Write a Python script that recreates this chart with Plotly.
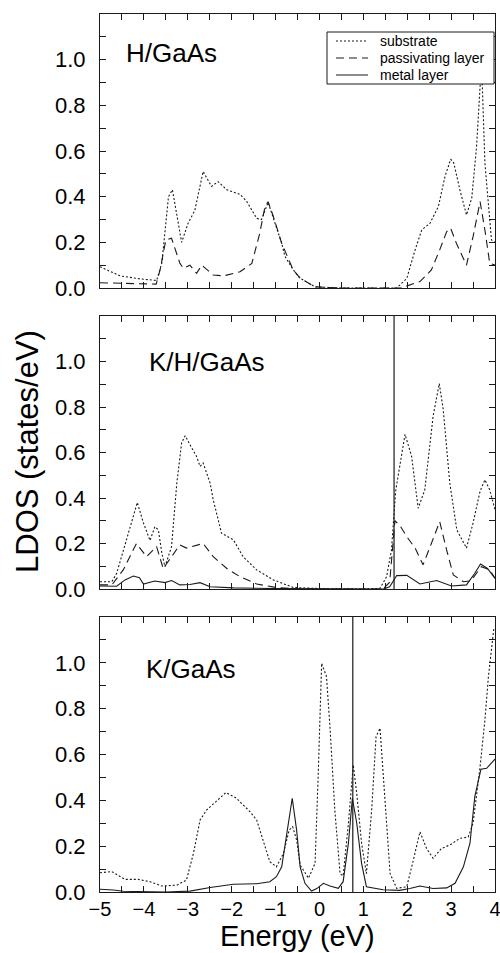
import plotly.graph_objects as go

# ---------------- data ----------------
# Panel 1: H/GaAs
h_sub_E = [-5, -4.54, -4.09, -3.71, -3.59, -3.44, -3.35, -3.14, -2.99, -2.84, -2.65, -2.46, -2.31, -2.11,
           -1.81, -1.66, -1.43, -1.32, -1.17, -0.98, -0.86, -0.79, -0.60, -0.44, -0.10, 0.5, 1.0, 1.5, 1.76,
           1.99, 2.18, 2.33, 2.52, 2.71, 2.86, 2.99, 3.06, 3.20, 3.35, 3.47, 3.58, 3.66, 3.70, 3.77, 3.92, 4.0]
h_sub = [0.093, 0.053, 0.04, 0.033, 0.11, 0.40, 0.43, 0.20, 0.285, 0.34, 0.51, 0.445, 0.466, 0.43,
         0.41, 0.38, 0.305, 0.30, 0.375, 0.27, 0.196, 0.14, 0.08, 0.043, 0.005, 0, 0, 0, 0.0,
         0.042, 0.167, 0.254, 0.284, 0.357, 0.488, 0.564, 0.548, 0.43, 0.32, 0.393, 0.62, 0.883, 0.95, 0.547, 0.21, 0.2]
h_pas_E = [-5, -4.0, -3.72, -3.63, -3.50, -3.37, -3.18, -3.10, -2.95, -2.80, -2.68, -2.42, -2.19, -1.81,
           -1.54, -1.36, -1.24, -1.17, -1.05, -0.86, -0.60, -0.44, -0.10, 0.5, 1.0, 1.5, 1.85, 2.29, 2.55,
           2.74, 2.90, 2.99, 3.12, 3.35, 3.50, 3.66, 3.77, 3.88, 4.0]
h_pas = [0.023, 0.02, 0.017, 0.08, 0.21, 0.218, 0.108, 0.086, 0.10, 0.064, 0.10, 0.057, 0.053, 0.071,
         0.108, 0.24, 0.357, 0.378, 0.313, 0.196, 0.08, 0.043, 0.005, 0, 0, 0, 0, 0.028, 0.079,
         0.167, 0.247, 0.262, 0.196, 0.10, 0.225, 0.378, 0.254, 0.108, 0.10]

# Panel 2: K/H/GaAs
kh_sub_E = [-5, -4.73, -4.62, -4.39, -4.28, -4.15, -4.01, -3.86, -3.75, -3.67, -3.59, -3.52, -3.37, -3.25,
            -3.14, -3.06, -2.91, -2.80, -2.72, -2.65, -2.49, -2.42, -2.23, -2.08, -1.96, -1.74, -1.43, -1.05,
            -0.60, 0.0, 0.5, 1.0, 1.38, 1.53, 1.64, 1.74, 1.83, 1.95, 2.10, 2.25, 2.40, 2.59, 2.73, 2.82,
            2.97, 3.13, 3.35, 3.50, 3.66, 3.77, 3.88, 4.0]
kh_sub = [0.032, 0.032, 0.069, 0.216, 0.29, 0.38, 0.29, 0.213, 0.274, 0.26, 0.157, 0.098, 0.186, 0.465,
          0.642, 0.674, 0.62, 0.583, 0.539, 0.554, 0.465, 0.392, 0.245, 0.23, 0.216, 0.142, 0.084, 0.04,
          0.007, 0.002, 0.0, 0.0, 0.003, 0.054, 0.17, 0.436, 0.54, 0.68, 0.583, 0.355, 0.436, 0.76, 0.903, 0.79,
          0.466, 0.26, 0.18, 0.29, 0.43, 0.48, 0.436, 0.348]
kh_pas_E = [-5, -4.73, -4.47, -4.32, -4.17, -3.94, -3.71, -3.56, -3.37, -3.18, -3.03, -2.65, -2.42, -2.11,
            -1.81, -1.43, -1.0, -0.5, 0.5, 1.0, 1.45, 1.60, 1.72, 1.83, 1.99, 2.18, 2.36, 2.55, 2.74, 2.90,
            3.05, 3.28, 3.45, 3.69, 3.88, 4.0]
kh_pas = [0.018, 0.018, 0.084, 0.142, 0.20, 0.142, 0.186, 0.09, 0.142, 0.194, 0.18, 0.20, 0.142, 0.09,
          0.054, 0.022, 0.007, 0.0, 0, 0, 0.0, 0.03, 0.30, 0.28, 0.23, 0.18, 0.106, 0.20, 0.296, 0.17,
          0.062, 0.032, 0.036, 0.098, 0.084, 0.047]
kh_met_E = [-5, -4.7, -4.62, -4.43, -4.24, -4.10, -4.01, -3.75, -3.52, -3.37, -3.18, -2.95, -2.72, -2.49,
            -1.96, -1.0, 0.0, 1.0, 1.46, 1.60, 1.68, 1.76, 1.99, 2.29, 2.67, 3.01, 3.35, 3.54, 3.67, 3.83, 4.0]
kh_met = [0.013, 0.01, 0.012, 0.04, 0.057, 0.05, 0.022, 0.035, 0.028, 0.037, 0.018, 0.02, 0.028, 0.01,
          0.005, 0.002, 0, 0, 0.0, 0.01, 0.032, 0.059, 0.06, 0.022, 0.037, 0.013, 0.018, 0.069, 0.11, 0.09, 0.047]

# Panel 3: K/GaAs
k_sub_E = [-5, -4.73, -4.43, -4.13, -3.86, -3.59, -3.25, -3.03, -2.87, -2.72, -2.57, -2.34, -2.13, -1.89,
           -1.58, -1.43, -1.28, -1.13, -0.98, -0.82, -0.69, -0.61, -0.52, -0.44, -0.25, -0.10, -0.03, 0.05,
           0.16, 0.24, 0.35, 0.47, 0.54, 0.66, 0.77, 0.85, 0.96, 1.07, 1.19, 1.29, 1.38, 1.49, 1.61, 1.76,
           1.99, 2.14, 2.29, 2.44, 2.59, 2.78, 2.97, 3.20, 3.39, 3.50, 3.66, 3.77, 3.85, 3.97, 4.0]
k_sub = [0.084, 0.089, 0.055, 0.055, 0.045, 0.026, 0.03, 0.052, 0.169, 0.314, 0.358, 0.40, 0.434, 0.409,
         0.35, 0.314, 0.227, 0.132, 0.11, 0.169, 0.27, 0.285, 0.227, 0.118, 0.06, 0.125, 0.50, 0.998,
         0.94, 0.72, 0.358, 0.08, 0.07, 0.30, 0.555, 0.43, 0.213, 0.08, 0.358, 0.678, 0.715, 0.416, 0.08, 0.016,
         0.023, 0.14, 0.263, 0.19, 0.147, 0.19, 0.205, 0.234, 0.24, 0.30, 0.547, 0.75, 0.94, 1.144, 1.15]
k_met_E = [-5, -4.7, -4.47, -4.0, -3.5, -2.95, -2.49, -1.96, -1.43, -1.13, -0.98, -0.86, -0.75, -0.62,
           -0.52, -0.44, -0.33, -0.18, -0.06, 0.09, 0.24, 0.43, 0.54, 0.66, 0.75, 0.85, 0.96, 1.07, 1.45,
           1.83, 2.06, 2.29, 2.59, 2.90, 3.09, 3.28, 3.43, 3.54, 3.68, 3.81, 3.88, 3.97, 4.0]
k_met = [0.012, 0.009, 0.003, 0.0, 0.0, 0.004, 0.02, 0.034, 0.036, 0.045, 0.067, 0.11, 0.256, 0.409,
         0.27, 0.11, 0.038, 0.004, 0.015, 0.038, 0.026, 0.016, 0.045, 0.213, 0.409, 0.30, 0.125, 0.023, 0.01,
         0.007, 0.015, 0.026, 0.015, 0.018, 0.038, 0.11, 0.213, 0.416, 0.536, 0.54, 0.555, 0.576, 0.58]

panel_labels = ["H/GaAs", "K/H/GaAs", "K/GaAs"]
fermi_levels = [None, 1.70, 0.76]
series_names = ["substrate", "passivating layer", "metal layer"]

y_tickvals = [0.0, 0.1, 0.2, 0.3, 0.4, 0.5, 0.6, 0.7, 0.8, 0.9, 1.0, 1.1]
y_ticktext = ["0.0", "", "0.2", "", "0.4", "", "0.6", "", "0.8", "", "1.0", ""]
x_tickvals = [-5, -4.5, -4, -3.5, -3, -2.5, -2, -1.5, -1, -0.5, 0, 0.5, 1, 1.5, 2, 2.5, 3, 3.5, 4]
x_ticktext = ["\u22125", "", "\u22124", "", "\u22123", "", "\u22122", "", "\u22121", "", "0", "", "1", "",
              "2", "", "3", "", "4"]

# ---------------- figure ----------------
FONT = "Liberation Sans, Arial, Helvetica, sans-serif"
INK = "#1a1a1a"
styles = {
    "substrate": dict(color=INK, width=1.1, dash="2px,2px"),
    "passivating layer": dict(color=INK, width=1.1, dash="8px,5px"),
    "metal layer": dict(color=INK, width=1.1),
}

W, H = 500, 953
ml, mr, mt, mb = 100, 5, 14, 61
pw = W - ml - mr
ph = H - mt - mb
panel_px = [(14, 288), (316, 589), (617, 892)]
domains = [[(892 - b) / ph, (892 - t) / ph] for (t, b) in panel_px]


def px_x(px):
    return (px - ml) / pw


def px_y(py):
    return (892 - py) / ph


panels = [
    [("substrate", h_sub_E, h_sub), ("passivating layer", h_pas_E, h_pas)],
    [("substrate", kh_sub_E, kh_sub), ("passivating layer", kh_pas_E, kh_pas), ("metal layer", kh_met_E, kh_met)],
    [("substrate", k_sub_E, k_sub), ("metal layer", k_met_E, k_met)],
]

fig = go.Figure()
for i, series in enumerate(panels):
    ax = "" if i == 0 else str(i + 1)
    for name, xs, ys in series:
        fig.add_trace(go.Scatter(
            x=xs, y=ys, mode="lines", name=name, line=styles[name],
            xaxis="x" + ax, yaxis="y" + ax, showlegend=False,
        ))

layout = dict(
    width=W, height=H,
    margin=dict(l=ml, r=mr, t=mt, b=mb, pad=0, autoexpand=False),
    paper_bgcolor="white", plot_bgcolor="white",
    font=dict(family=FONT, color="black"),
    showlegend=False,
)

annotations = []
shapes = []
for i in range(3):
    sfx = "" if i == 0 else str(i + 1)
    layout["xaxis" + sfx] = dict(
        domain=[0, 1], range=[-5, 4], anchor="y" + sfx, automargin=False,
        showline=True, linecolor=INK, linewidth=1, mirror="ticks",
        ticks="inside", ticklen=6, tickcolor=INK, tickwidth=1,
        tickvals=x_tickvals, ticktext=x_ticktext, ticklabeloverflow="allow",
        ticklabelstandoff=-1,
        showticklabels=(i == 2), showgrid=False, zeroline=False,
        tickfont=dict(family=FONT, size=20, color="black"),
    )
    layout["yaxis" + sfx] = dict(
        domain=domains[i], range=[0, 1.2], anchor="x" + sfx, automargin=False,
        showline=True, linecolor=INK, linewidth=1, mirror="ticks",
        ticks="inside", ticklen=6, tickcolor=INK, tickwidth=1,
        tickvals=y_tickvals, ticktext=y_ticktext, ticklabelstandoff=9,
        showgrid=False, zeroline=False,
        tickfont=dict(family=FONT, size=22, color="black"),
    )
    label_pos = [(-4.45, 1.03), (-3.93, 1.0), (-4.0, 0.975)][i]
    annotations.append(dict(
        x=label_pos[0], y=label_pos[1], xref="x" + sfx, yref="y" + sfx,
        text=panel_labels[i], showarrow=False, xanchor="left", yanchor="middle",
        font=dict(family=FONT, size=26, color="black"),
    ))
    if fermi_levels[i] is not None:
        shapes.append(dict(
            type="line", xref="x" + sfx, yref="y" + sfx + " domain",
            x0=fermi_levels[i], x1=fermi_levels[i], y0=0, y1=1,
            line=dict(color=INK, width=1.2),
        ))

# legend box drawn in the top panel (opaque, above the curves)
shapes.append(dict(
    type="rect", xref="paper", yref="paper", layer="above",
    x0=px_x(327), x1=px_x(494), y0=px_y(84), y1=px_y(32),
    fillcolor="white", line=dict(color=INK, width=1),
))
legend_rows_py = [41, 58, 75]
for name, py in zip(series_names, legend_rows_py):
    st = styles[name]
    shapes.append(dict(
        type="line", xref="paper", yref="paper", layer="above",
        x0=px_x(336), x1=px_x(368), y0=px_y(py), y1=px_y(py),
        line=dict(color=INK, width=1, dash=st.get("dash", "solid")),
    ))
    annotations.append(dict(
        x=px_x(378), y=px_y(py), xref="paper", yref="paper",
        text=name, showarrow=False, xanchor="left", yanchor="middle",
        font=dict(family=FONT, size=14, color="black"),
    ))

annotations.append(dict(
    x=0.5, y=px_y(954), xref="paper", yref="paper",
    text="Energy (eV)", showarrow=False, xanchor="center", yanchor="bottom",
    font=dict(family=FONT, size=29, color="black"),
))
annotations.append(dict(
    x=px_x(28), y=px_y(452), xref="paper", yref="paper",
    text="LDOS (states/eV)", showarrow=False, textangle=-90, xanchor="center", yanchor="middle",
    font=dict(family=FONT, size=31, color="black"),
))
layout["annotations"] = annotations
layout["shapes"] = shapes

fig.update_layout(**layout)
fig.write_html("out.html")
